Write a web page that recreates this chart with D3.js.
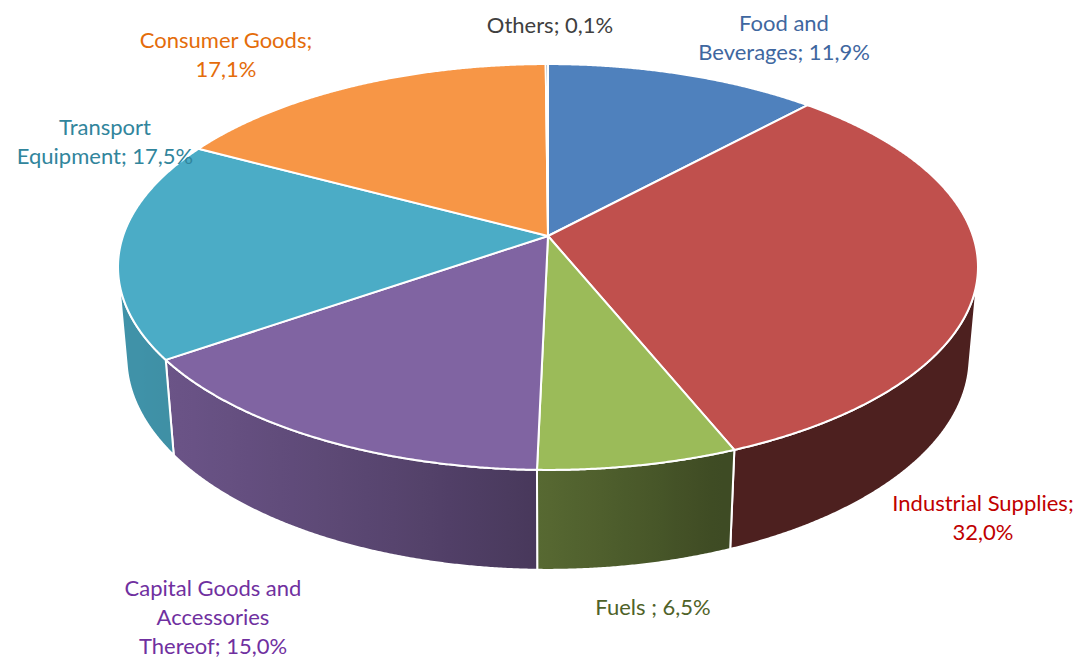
<!DOCTYPE html>
<html>
<head>
<meta charset="utf-8">
<script src="https://cdn.jsdelivr.net/npm/d3@7"></script>
<style>
  html, body { margin: 0; padding: 0; background: #ffffff; }
  svg { display: block; }
  text { font-family: Lato, "Noto Sans", sans-serif; }
</style>
</head>
<body>
<svg id="chart" width="1081" height="658"></svg>
<script>
// Export structure by product group (share of total, %)
const categories = [
  "Food and Beverages",
  "Industrial Supplies",
  "Fuels",
  "Capital Goods and Accessories Thereof",
  "Transport Equipment",
  "Consumer Goods",
  "Others"
];
const shares = [11.9, 32.0, 6.5, 15.0, 17.5, 17.1, 0.1];
// Label lines; {v} is replaced by the formatted share
const labelLines = [
  ["Food and", "Beverages; {v}%"],
  ["Industrial Supplies;", "{v}%"],
  ["Fuels ; {v}%"],
  ["Capital Goods and", "Accessories", "Thereof; {v}%"],
  ["Transport", "Equipment; {v}%"],
  ["Consumer Goods;", "{v}%"],
  ["Others; {v}%"]
];
const sliceColors = ["#4F81BD", "#C0504D", "#9BBB59", "#8064A2", "#4BACC6", "#F79646", "#2C4D75"];
const labelColors = ["#3F67A0", "#C00000", "#4F6228", "#7030A0", "#31859C", "#E46C0A", "#404040"];
// label block centre x and first-line baseline y
const labelAnchors = [[784, 31], [983, 511], [653, 615], [213, 596], [105, 135], [226, 48], [550, 33]];
const lineStep = 29;

const svg = d3.select("#chart");
const defs = svg.append("defs");

// ---- 3D perspective pie geometry ----
const cx = 548, cy = 236;          // screen position of the pie apex
const elev = 27.8 * Math.PI / 180; // viewing elevation
const camDist = 1;                 // camera distance from the apex
const radius = 0.1726;             // pie radius (camera units)
const thick = 0.0419;              // pie thickness
const focal = 2462;                // projection scale
const se = Math.sin(elev), ce = Math.cos(elev);

function project(theta, h) {
  const x = radius * Math.sin(theta);
  const yd = radius * Math.cos(theta);      // positive = far side
  const Y = yd * se + h * ce;
  const depth = camDist + yd * ce - h * se;
  return [cx + focal * x / depth, cy - focal * Y / depth];
}

function arcPoints(a0, a1, h) {
  const n = Math.max(2, Math.ceil(Math.abs(a1 - a0) / (0.25 * Math.PI / 180)));
  return d3.range(n + 1).map(i => project(a0 + (a1 - a0) * i / n, h));
}

// light from the left and slightly in front
const lightAng = 20 * Math.PI / 180;
const L = [-Math.cos(lightAng), -Math.sin(lightAng)];
function shade(theta) {
  const d = Math.sin(theta) * L[0] + Math.cos(theta) * L[1];
  return 0.4 + 0.45 * Math.max(0, d);
}
function shadeColor(c, s) {
  const r = d3.rgb(c);
  return d3.rgb(r.r * s, r.g * s, r.b * s).formatHex();
}

const pie = d3.pie().sort(null).value(d => d);
const arcs = pie(shares);
const line = d3.line();

// outer wall is visible where it faces the camera
const visStart = Math.acos(-radius / (camDist * ce));
const visEnd = 2 * Math.PI - visStart;

const gWalls = svg.append("g");
arcs.forEach((d, i) => {
  const a = Math.max(d.startAngle, visStart);
  const b = Math.min(d.endAngle, visEnd);
  if (a >= b) return;
  const top = arcPoints(a, b, 0);
  const bottom = arcPoints(b, a, -thick);
  const pts = top.concat(bottom);
  const xs = top.map(p => p[0]);
  const xMin = d3.min(xs), xMax = d3.max(xs);
  const gid = "wall" + i;
  const grad = defs.append("linearGradient")
    .attr("id", gid).attr("gradientUnits", "userSpaceOnUse")
    .attr("x1", xMin).attr("x2", xMax).attr("y1", 0).attr("y2", 0);
  const ns = 16;
  const stops = d3.range(ns + 1).map(k => {
    const t = a + (b - a) * k / ns;
    const px = project(t, 0)[0];
    return { off: (px - xMin) / Math.max(1e-6, xMax - xMin), col: shadeColor(sliceColors[i], shade(t)) };
  }).sort((p, q) => p.off - q.off);
  stops.forEach(s => grad.append("stop").attr("offset", s.off).attr("stop-color", s.col));
  gWalls.append("path")
    .attr("d", line(pts) + "Z")
    .attr("fill", `url(#${gid})`)
    .attr("stroke", "#ffffff")
    .attr("stroke-width", 2)
    .attr("stroke-linejoin", "round");
});

const gTop = svg.append("g");
arcs.forEach((d, i) => {
  // apex is the projection of the pie centre
  const pts = [[cx, cy]].concat(arcPoints(d.startAngle, d.endAngle, 0));
  gTop.append("path")
    .attr("d", line(pts) + "Z")
    .attr("fill", sliceColors[i])
    .attr("stroke", "#ffffff")
    .attr("stroke-width", 2)
    .attr("stroke-linejoin", "round");
});

// ---- data labels ----
const fmt = v => d3.format(".1f")(v).replace(".", ",");
const gLabels = svg.append("g");
arcs.forEach((d, i) => {
  const [lx, ly] = labelAnchors[i];
  const t = gLabels.append("text")
    .attr("text-anchor", "middle")
    .attr("font-size", 22)
    .attr("fill", labelColors[i]);
  labelLines[i].forEach((ln, j) => {
    t.append("tspan")
      .attr("x", lx)
      .attr("y", ly + j * lineStep)
      .text(ln.replace("{v}", fmt(shares[i])));
  });
});
</script>
</body>
</html>
